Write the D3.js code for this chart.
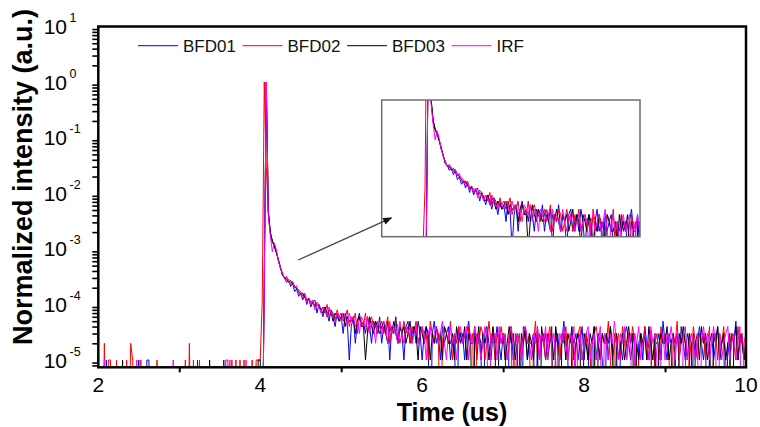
<html>
<head>
<meta charset="UTF-8">
<title>Decay curves</title>
<style>
  body { margin: 0; background: #fff; }
  text { font-family: 'Liberation Sans', Arial, sans-serif; }
</style>
</head>
<body>
<div id="chart"></div>
<script src="https://cdnjs.cloudflare.com/ajax/libs/d3/7.8.5/d3.min.js"></script>
<script>

// TCSPC histograms: counts per bin, first bin at tStart (us), bins tStep wide
var tStart = 2, tStep = 0.025, peakCounts = 100000;

var seriesNames = ["BFD01", "BFD02", "BFD03", "IRF"];

var bfd01 = [
  0,0,0,0,1,0,0,0,0,0,0,0,0,0,0,0,0,0,0,0,
  1,0,0,0,1,1,0,0,0,0,0,0,0,0,0,0,0,0,0,0,
  0,0,0,0,0,0,0,0,0,1,0,0,0,0,0,0,0,0,0,0,
  0,0,1,0,0,0,0,0,0,0,0,0,0,0,0,0,0,0,0,0,
  0,0,25,100000,480,200,135,118,88,60,47,33,31,25,28,21,24,17,19,14,
  16,12,15,10,13,9,11,12,7,10,8,6,9,7,5,8,6,4,7,5,
  6,3,7,5,1,4,6,2,5,7,4,5,3,6,4,2,5,4,3,6,
  2,4,3,5,1,4,3,6,2,4,3,1,4,5,2,3,4,2,5,3,
  1,3,4,2,0,3,5,2,3,1,4,2,3,4,1,2,3,0,4,2,
  3,1,3,5,2,2,4,1,3,2,0,3,4,2,1,3,2,4,2,1,
  3,2,0,3,4,1,2,3,2,0,4,3,1,2,2,3,0,4,1,3,
  2,1,3,2,4,0,2,3,1,2,5,2,1,0,3,2,3,1,2,4,
  1,3,2,0,2,4,1,3,2,1,0,3,2,4,1,2,3,0,2,1,
  3,4,2,1,2,3,0,2,3,1,4,2,1,3,0,2,2,3,1,5,
  2,1,3,2,0,2,3,1,4,2,1,3,2,0,3,1,2,4,2,1,
  3,0,2,3,1,2,4,1,2,3,0,2,1,3,2,5,1,2,3,1,
  2
];

var bfd02 = [
  2,0,0,2,0,1,1,0,0,1,0,0,0,0,1,0,2,1,0,0,
  0,1,0,0,0,0,0,0,0,1,0,0,0,0,0,0,0,0,0,0,
  0,0,0,1,0,2,0,1,0,0,1,0,0,0,0,0,0,0,0,0,
  0,0,0,1,1,0,1,0,1,0,1,0,1,0,0,0,1,0,1,1,
  1,12,100000,3000,430,185,130,112,86,65,44,37,29,32,27,24,26,21,20,18,
  17,14,16,12,13,11,12,9,11,10,8,9,7,10,6,8,7,5,8,6,
  7,5,6,8,4,6,5,7,3,6,5,4,7,3,5,6,4,5,3,4,
  5,3,4,6,2,4,3,5,4,2,3,5,3,4,2,4,3,5,2,3,
  4,2,3,1,5,3,2,4,3,0,2,4,3,2,5,1,3,2,4,3,
  2,3,1,4,2,3,0,3,2,4,3,1,2,5,2,3,1,3,2,4,
  2,3,1,2,4,0,3,2,3,1,2,4,2,3,0,2,5,1,3,2,
  3,1,2,4,2,0,3,2,1,3,2,4,1,2,3,0,2,3,4,1,
  2,3,1,2,0,3,4,2,1,3,2,2,5,1,0,3,2,3,1,4,
  2,1,3,2,4,2,0,1,3,2,4,1,2,3,0,2,3,1,4,2,
  3,2,1,0,3,2,5,1,2,3,2,0,3,1,4,2,1,3,2,3,
  1,2,4,0,2,3,1,3,2,4,1,0,2,3,2,1,4,2,3,1,
  3
];

var bfd03 = [
  0,0,0,0,0,0,0,0,0,0,0,0,1,0,0,0,0,0,0,0,
  0,0,0,0,0,0,0,0,0,0,0,0,0,0,0,0,0,0,0,0,
  0,0,0,0,0,0,0,0,0,0,0,0,0,0,0,1,0,0,0,0,
  0,0,0,0,0,0,0,0,0,0,0,0,0,0,0,0,0,0,0,1,
  1,0,30,100000,470,195,140,112,84,63,46,34,30,29,25,27,23,21,19,17,
  15,16,13,12,12,10,11,9,10,9,8,7,9,6,8,7,5,7,6,5,
  6,7,4,6,5,5,6,3,5,6,4,4,1,3,6,4,3,5,4,3,
  4,5,3,2,4,3,5,3,2,4,3,4,2,3,5,2,4,3,1,4,
  3,2,4,3,1,3,2,4,2,3,1,4,3,2,2,3,1,4,2,3,
  2,4,1,3,2,0,3,2,4,1,3,2,3,1,2,4,2,0,3,2,
  3,1,2,4,2,3,1,2,0,3,2,4,1,3,2,1,3,2,0,4,
  2,3,1,2,3,1,4,2,0,2,3,1,3,2,4,1,2,3,2,0,
  3,2,1,3,2,4,0,2,1,3,2,3,1,4,2,0,3,1,2,3,
  1,2,4,2,3,0,2,1,3,2,3,1,4,2,1,3,0,2,3,2,
  2,4,1,2,3,1,0,3,2,4,2,1,3,2,0,2,3,1,4,2,
  3,1,2,0,3,2,4,1,2,3,1,2,3,0,2,4,1,3,2,1,
  2
];

var irf = [
  0,0,0,1,0,0,0,0,0,0,0,0,0,0,0,0,0,0,0,1,
  0,0,0,0,0,0,0,0,0,0,0,0,0,0,0,0,0,1,0,0,
  0,0,0,0,0,0,0,0,0,0,0,0,0,0,0,0,0,0,0,0,
  0,0,0,0,0,1,0,0,0,0,0,0,0,1,0,0,0,0,0,0,
  0,0,22,100000,400,170,88,128,95,60,45,36,29,31,26,23,25,20,22,16,
  16,13,15,11,12,10,12,8,10,9,7,9,8,6,9,7,6,5,7,6,
  5,7,6,4,7,5,6,4,5,3,6,5,4,6,3,5,4,2,5,4,
  3,5,4,2,5,3,4,3,2,5,3,2,4,3,4,2,3,4,2,3,
  4,3,1,3,4,2,3,4,2,3,5,2,1,3,4,2,3,1,3,4,
  2,3,4,1,3,2,4,2,3,1,2,4,3,0,3,2,3,1,4,2,
  3,2,1,3,4,2,0,3,2,1,3,4,2,2,1,3,2,4,1,3,
  2,4,1,3,2,3,1,0,3,2,4,2,1,3,2,4,0,2,3,1,
  2,3,4,1,2,3,1,2,4,0,3,2,1,3,2,5,2,1,3,2,
  4,1,2,3,0,3,2,4,1,2,3,2,1,4,2,3,1,0,2,3,
  1,3,2,4,2,1,3,2,0,3,4,1,2,3,2,1,3,0,2,4,
  2,3,1,2,4,2,0,3,1,2,3,4,1,2,3,1,2,4,0,2,
  3
];

var xTicks = [2, 4, 6, 8, 10];
var xMinorTicks = [3, 5, 7, 9];
var yTickExps = [1, 0, -1, -2, -3, -4, -5];

// axis ranges
var xDomain = [2, 10];
var yDomain = [7.4e-6, 10];
var insetX = [3.49, 6.68];
var insetY = [1.6e-5, 4.6e-3];
var arrowFrom = [4.47, 6.3e-4], arrowTo = [5.62, 3.6e-3];

var allSeries = [bfd01, bfd02, bfd03, irf];
var colors = ["#0000ff", "#ff0000", "#000000", "#ff00ff"];

var width = 760, height = 427;
var plot = { left: 98.3, right: 746, top: 26.5, bottom: 367.3 };
var insetBox = { left: 381.7, right: 640, top: 100, bottom: 236.7 };

var svg = d3.select("#chart").append("svg")
    .attr("width", width)
    .attr("height", height)
    .style("display", "block");

svg.append("rect").attr("width", width).attr("height", height).attr("fill", "#fff");

var x = d3.scaleLinear().domain(xDomain).range([plot.left, plot.right]);
var y = d3.scaleLog().domain(yDomain).range([plot.bottom, plot.top]);

// zero counts drop below the log axis
function norm(c) { return c > 0 ? c / peakCounts : 1e-7; }

var defs = svg.append("defs");
defs.append("clipPath").attr("id", "clipMain")
  .append("rect")
    .attr("x", plot.left).attr("y", plot.top)
    .attr("width", plot.right - plot.left).attr("height", plot.bottom - plot.top);
defs.append("clipPath").attr("id", "clipInset")
  .append("rect")
    .attr("x", insetBox.left).attr("y", insetBox.top)
    .attr("width", insetBox.right - insetBox.left).attr("height", insetBox.bottom - insetBox.top);
defs.append("marker")
    .attr("id", "arrowHead")
    .attr("markerUnits", "userSpaceOnUse")
    .attr("viewBox", "0 -5 10 10")
    .attr("refX", 9).attr("refY", 0)
    .attr("markerWidth", 11).attr("markerHeight", 9)
    .attr("orient", "auto")
  .append("path")
    .attr("d", "M0,-4L10,0L0,4Z")
    .attr("fill", "#111");

function drawCurves(g, xs, ys) {
  var line = d3.line()
      .x(function(c, i) { return xs(tStart + i * tStep); })
      .y(function(c) { return ys(norm(c)); });
  g.selectAll("path.curve")
      .data(allSeries)
    .enter().append("path")
      .attr("class", "curve")
      .attr("fill", "none")
      .attr("stroke", function(d, i) { return colors[i]; })
      .attr("stroke-width", 1)
      .attr("d", line);
}

// main curves
drawCurves(svg.append("g").attr("clip-path", "url(#clipMain)"), x, y);

// x axis
var gx = svg.append("g").attr("transform", "translate(0," + plot.bottom + ")");
gx.call(d3.axisBottom(x).tickValues(xTicks).tickSize(8).tickFormat(""));
gx.call(d3.axisBottom(x).tickValues(xMinorTicks).tickSize(5).tickFormat(""));
gx.selectAll(".domain").remove();
gx.selectAll(".tick line").attr("stroke", "#000").attr("stroke-width", 2);

svg.append("g").selectAll("text")
    .data(xTicks)
  .enter().append("text")
    .attr("x", function(d) { return x(d); })
    .attr("y", plot.bottom + 25)
    .attr("text-anchor", "middle")
    .attr("font-size", 21)
    .attr("fill", "#000")
    .text(function(d) { return d; });

// y axis, majors and 2..9 minors
var yMinor = [];
for (var e = -6; e < 1; e++) {
  for (var m = 2; m <= 9; m++) {
    var v = m * Math.pow(10, e);
    if (v >= yDomain[0] && v <= yDomain[1]) yMinor.push(v);
  }
}
var gy = svg.append("g").attr("transform", "translate(" + plot.left + ",0)");
gy.call(d3.axisLeft(y).tickValues(yTickExps.map(function(e) { return Math.pow(10, e); })).tickSize(11).tickFormat(""));
gy.call(d3.axisLeft(y).tickValues(yMinor).tickSize(6).tickFormat(""));
gy.selectAll(".domain").remove();
gy.selectAll(".tick line").attr("stroke", "#000").attr("stroke-width", 1.6);

var yLabels = svg.append("g").selectAll("g")
    .data(yTickExps)
  .enter().append("g");
yLabels.append("text")
    .attr("x", 67)
    .attr("y", function(d) { return y(Math.pow(10, d)) + 7.5; })
    .attr("text-anchor", "end")
    .attr("font-size", 21)
    .text("10");
yLabels.append("text")
    .attr("x", 69.5)
    .attr("y", function(d) { return y(Math.pow(10, d)) - 4.5; })
    .attr("font-size", 12.5)
    .text(function(d) { return d; });

// frame
svg.append("rect")
    .attr("x", plot.left).attr("y", plot.top)
    .attr("width", plot.right - plot.left).attr("height", plot.bottom - plot.top)
    .attr("fill", "none")
    .attr("stroke", "#000")
    .attr("stroke-width", 2.5);

// titles
svg.append("text")
    .attr("x", 452).attr("y", 421)
    .attr("text-anchor", "middle")
    .attr("font-size", 25)
    .attr("font-weight", "bold")
    .text("Time (us)");

svg.append("text")
    .attr("transform", "translate(32,177) rotate(-90)")
    .attr("text-anchor", "middle")
    .attr("font-size", 27)
    .attr("font-weight", "bold")
    .text("Normalized intensity (a.u.)");

// legend
var legend = svg.append("g").selectAll("g")
    .data(seriesNames)
  .enter().append("g")
    .attr("transform", function(d, i) { return "translate(" + (138 + i * 104.5) + ",45.7)"; });
legend.append("line")
    .attr("x1", 0).attr("x2", 40)
    .attr("stroke", function(d, i) { return colors[i]; })
    .attr("stroke-width", 1.2)
    .attr("opacity", 0.8);
legend.append("text")
    .attr("x", 45).attr("y", 6)
    .attr("font-size", 17)
    .attr("fill", "#111")
    .text(function(d) { return d; });

// inset: same data, cropped window
var xi = d3.scaleLinear().domain(insetX).range([insetBox.left, insetBox.right]);
var yi = d3.scaleLog().domain(insetY).range([insetBox.bottom, insetBox.top]);

svg.append("rect")
    .attr("x", insetBox.left).attr("y", insetBox.top)
    .attr("width", insetBox.right - insetBox.left).attr("height", insetBox.bottom - insetBox.top)
    .attr("fill", "#fff");
drawCurves(svg.append("g").attr("clip-path", "url(#clipInset)"), xi, yi);
svg.append("rect")
    .attr("x", insetBox.left).attr("y", insetBox.top)
    .attr("width", insetBox.right - insetBox.left).attr("height", insetBox.bottom - insetBox.top)
    .attr("fill", "none")
    .attr("stroke", "#6e6e6e")
    .attr("stroke-width", 1.5);

// arrow pointing at the inset
svg.append("line")
    .attr("x1", x(arrowFrom[0])).attr("y1", y(arrowFrom[1]))
    .attr("x2", x(arrowTo[0])).attr("y2", y(arrowTo[1]))
    .attr("stroke", "#444")
    .attr("stroke-width", 1.3)
    .attr("marker-end", "url(#arrowHead)");

</script>
</body>
</html>
